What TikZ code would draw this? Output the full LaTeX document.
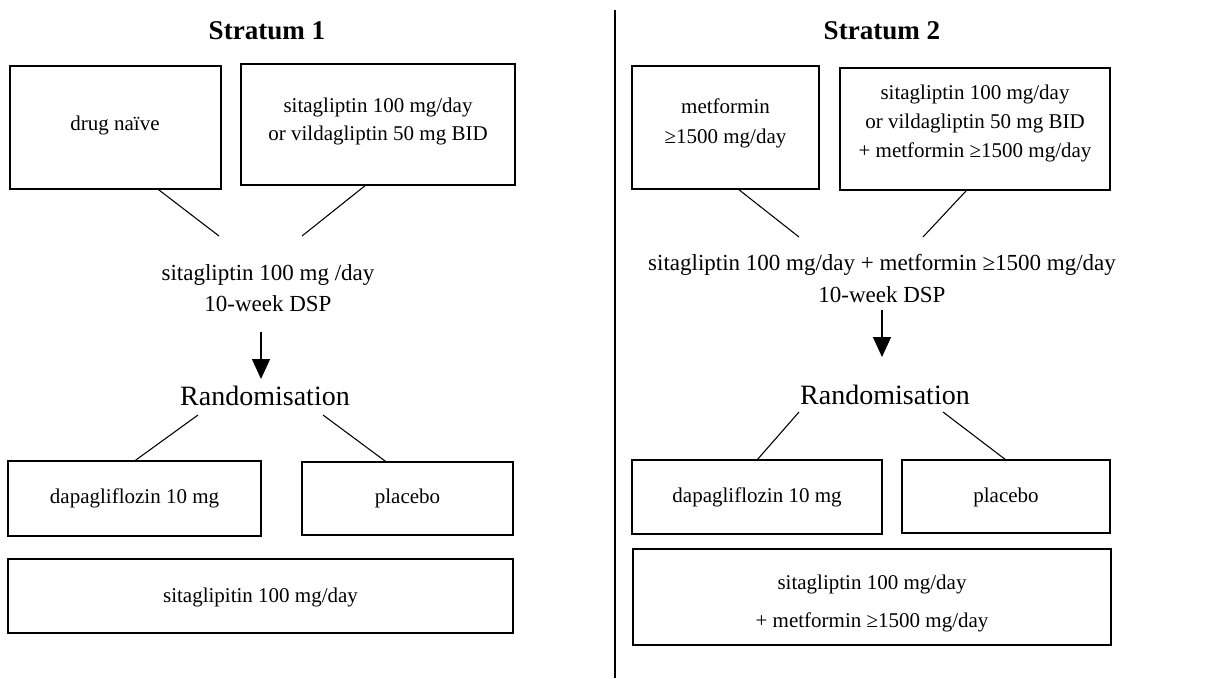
\documentclass[tikz,border=0pt]{standalone}
\usepackage{fontspec}
\setmainfont{Liberation Serif}
\usetikzlibrary{arrows.meta,calc}
\newcommand\mybox[5]{\node[box, minimum width={(#4-#2)*0.75pt}, minimum height={(#5-#3)*0.75pt}] (#1) at ({(#2+#4)/2},{(#3+#5)/2}) {};}
\newcommand\boxfont{\fontsize{15.75}{21}\selectfont}
\begin{document}
\begin{tikzpicture}[x=0.75pt,y=-0.75pt,
  box/.style={draw=black, line width=1pt, inner sep=0pt, outer sep=0pt},
  txt/.style={inner sep=0pt, outer sep=0pt, align=center, anchor=base},
  conn/.style={line width=0.8pt, black},
  arr/.style={line width=1pt, -{Triangle[width=13.5pt,length=15pt]}},
  title/.style={inner sep=0pt, anchor=base, font=\fontsize{20.3}{24}\selectfont\bfseries},
  rand/.style={inner sep=0pt, anchor=base, font=\fontsize{21}{25}\selectfont}]
\useasboundingbox (0,0) rectangle (1208,679);
% divider
\coordinate (dtop) at (615,10);
\coordinate (dbot) at (615,678);
\draw[line width=1.5pt] (dtop) -- (dbot);

% ---------------- Stratum 1 ----------------
\node[title] (t1) at (267,39) {Stratum 1};
\mybox{a}{10}{66}{221}{189}
\mybox{b}{241}{64}{515}{185}
\node[txt, font=\boxfont] (at) at (115,130) {drug naïve};
\node[txt, font=\fontsize{15.75}{21}\selectfont] (bt) at (378,140) {sitagliptin 100 mg/day\\or vildagliptin 50 mg BID};
\node[txt, font=\fontsize{17.25}{23.25}\selectfont] (m1) at (268,311) {sitagliptin 100 mg /day\\10-week DSP};
\coordinate (c1) at (219,236);
\coordinate (c2) at (302,236);
\draw[conn] ($(a.south west)!0.70!(a.south east)$) -- (c1);
\draw[conn] ($(b.south west)!0.456!(b.south east)$) -- (c2);
\coordinate (ar1a) at (261,332);
\coordinate (ar1b) at (261,379);
\draw[arr] (ar1a) -- (ar1b);
\node[rand] (r1) at (265,405) {Randomisation};
\mybox{d1}{8}{461}{261}{536}
\mybox{p1}{302}{462}{513}{535}
\node[txt, font=\boxfont] (d1t) at (134.5,503) {dapagliflozin 10 mg};
\node[txt, font=\boxfont] (p1t) at (407.5,503) {placebo};
\coordinate (r1a) at (198,415);
\coordinate (r1b) at (323,415);
\draw[conn] (r1a) -- (d1.north);
\draw[conn] (r1b) -- ($(p1.north west)!0.40!(p1.north east)$);
\mybox{s1}{8}{559}{513}{633}
\node[txt, font=\boxfont] (s1t) at (260.5,602) {sitaglipitin 100 mg/day};

% ---------------- Stratum 2 ----------------
\node[title] (t2) at (882,39) {Stratum 2};
\mybox{c}{632}{66}{819}{189}
\mybox{dd}{840}{68}{1110}{190}
\node[txt, font=\fontsize{15.75}{22.5}\selectfont] (ct) at (725.5,143) {metformin\\≥1500 mg/day};
\node[txt, font=\fontsize{15.75}{21.4}\selectfont] (ddt) at (975,157) {sitagliptin 100 mg/day\\or vildagliptin 50 mg BID\\+ metformin ≥1500 mg/day};
\node[txt, font=\fontsize{17.25}{24}\selectfont] (m2) at (882,302) {sitagliptin 100 mg/day + metformin ≥1500 mg/day\\10-week DSP};
\coordinate (c3) at (799,237);
\coordinate (c4) at (923,237);
\draw[conn] ($(c.south west)!0.567!(c.south east)$) -- (c3);
\draw[conn] ($(dd.south west)!0.47!(dd.south east)$) -- (c4);
\coordinate (ar2a) at (882,310);
\coordinate (ar2b) at (882,357);
\draw[arr] (ar2a) -- (ar2b);
\node[rand] (r2) at (885,404) {Randomisation};
\mybox{d2}{632}{460}{882}{534}
\mybox{p2}{902}{460}{1110}{533}
\node[txt, font=\boxfont] (d2t) at (757,502) {dapagliflozin 10 mg};
\node[txt, font=\boxfont] (p2t) at (1006,502) {placebo};
\coordinate (r2a) at (799,412);
\coordinate (r2b) at (943,412);
\draw[conn] (r2a) -- (d2.north);
\draw[conn] (r2b) -- (p2.north);
\mybox{s2}{633}{549}{1111}{645}
\node[txt, font=\fontsize{15.75}{28.5}\selectfont] (s2t) at (872,627) {sitagliptin 100 mg/day\\+ metformin ≥1500 mg/day};
\end{tikzpicture}
\end{document}
